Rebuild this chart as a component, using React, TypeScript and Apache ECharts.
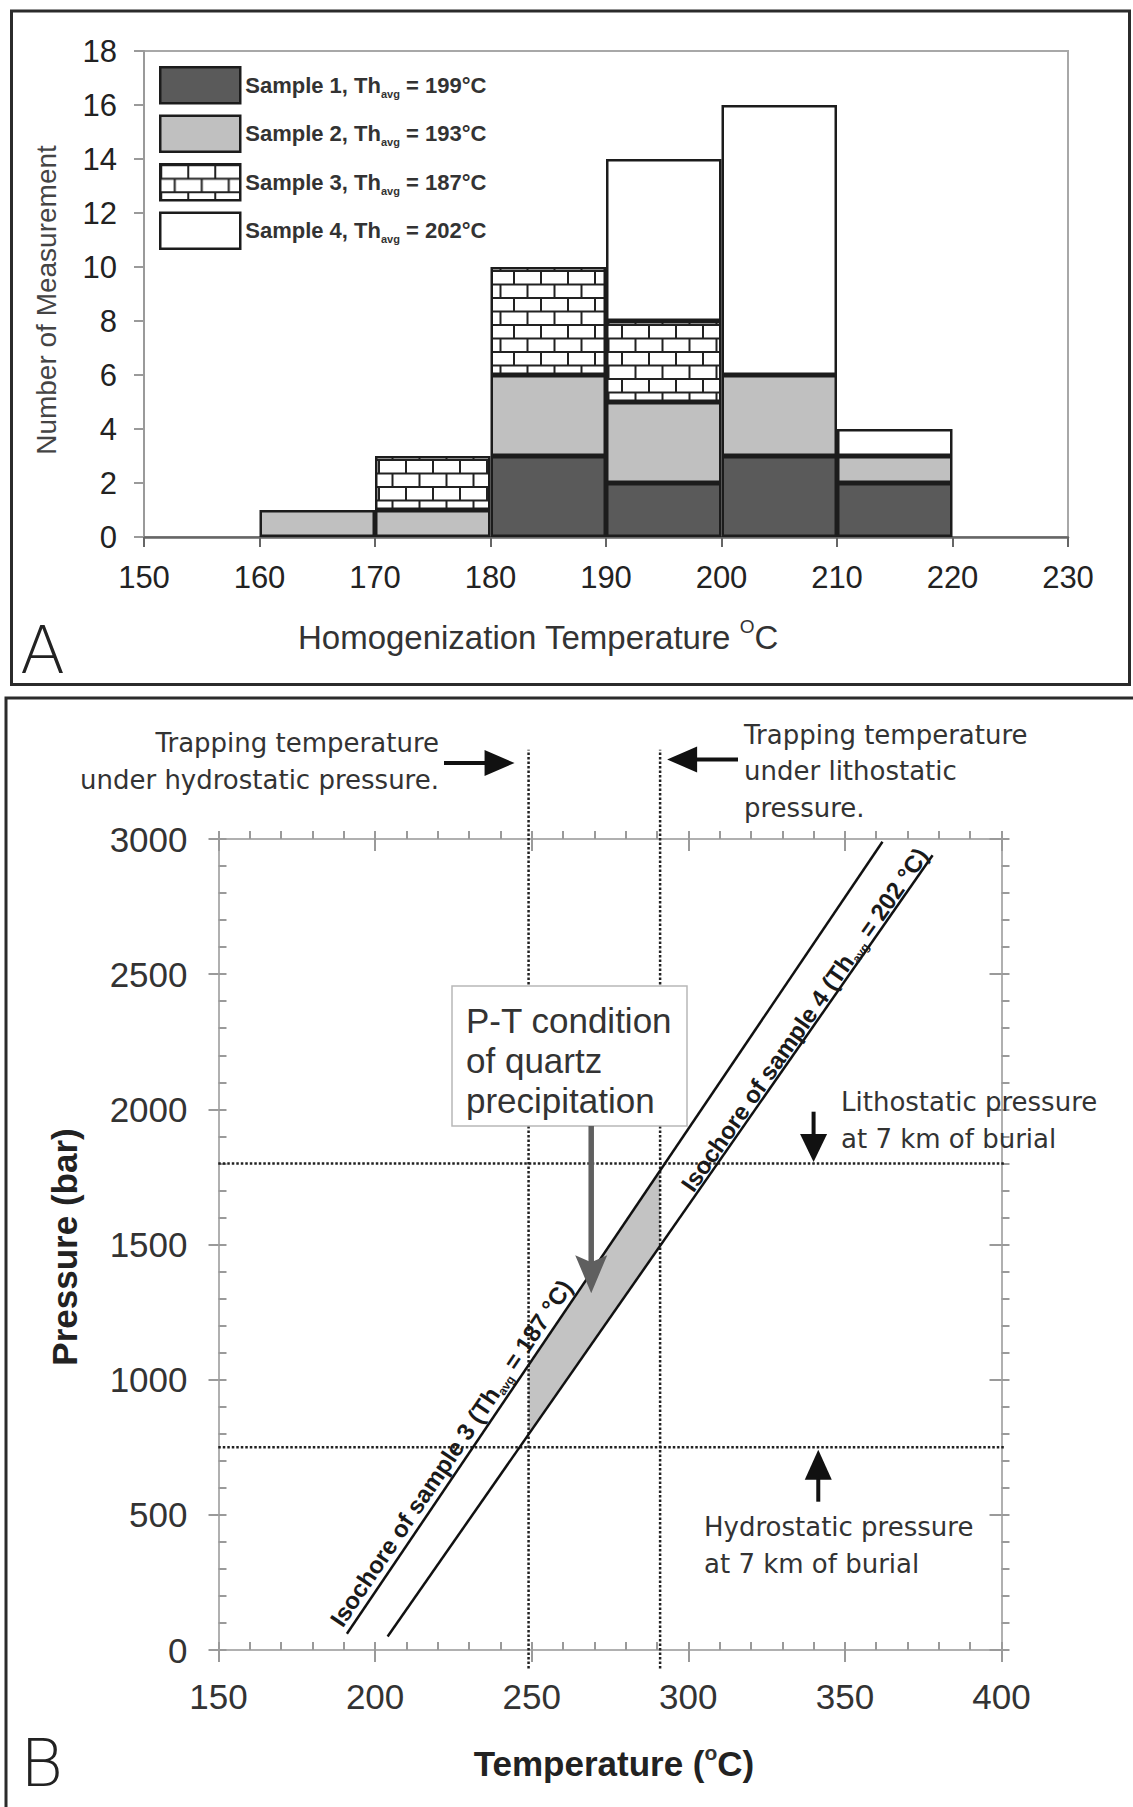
import React, { useEffect, useRef } from 'react';
import * as echarts from 'echarts';

// ---------------- Panel A: homogenization temperature histogram ----------------
const BIN_STARTS = [160, 170, 180, 190, 200, 210];
const BIN_WIDTH = 10;
const SAMPLE_1 = [0, 0, 3, 2, 3, 2];
const SAMPLE_2 = [1, 1, 3, 3, 3, 1];
const SAMPLE_3 = [0, 2, 4, 3, 0, 0];
const SAMPLE_4 = [0, 0, 0, 6, 10, 1];
const SAMPLE_NAMES = ['Sample 1', 'Sample 2', 'Sample 3', 'Sample 4'];
const SAMPLE_TH_AVG = [199, 193, 187, 202];
const HIST_T_MIN = 150;
const HIST_T_MAX = 230;
const HIST_T_STEP = 10;
const HIST_N_MIN = 0;
const HIST_N_MAX = 18;
const HIST_N_STEP = 2;

// ---------------- Panel B: pressure-temperature diagram ----------------
const PT_T_MIN = 150;
const PT_T_MAX = 400;
const PT_T_STEP = 50;
const PT_T_MINOR = 10;
const PT_P_MIN = 0;
const PT_P_MAX = 3000;
const PT_P_STEP = 500;
const PT_P_MINOR = 100;
const ISOCHORE_3_T = [191, 362];
const ISOCHORE_3_P = [60, 2990];
const ISOCHORE_4_T = [204, 378];
const ISOCHORE_4_P = [50, 2940];
const TRAP_T_HYDROSTATIC = 249;
const TRAP_T_LITHOSTATIC = 291;
const P_HYDROSTATIC = 750;
const P_LITHOSTATIC = 1800;
const PT_FIELD_T = [249, 291, 291, 249];
const PT_FIELD_P = [1054, 1774, 1495, 797];
const PT_ARROW_T = 269;
const PT_ARROW_P = 1320;

// guide lines run a little past the frame
const GUIDE_P_EXTENT = [-68, 3330];
const GUIDE_T_EXTENT = [137, 414];

const FONT = "'Liberation Sans', Arial, Helvetica, sans-serif";
const NOTE_FONT = "'DejaVu Sans', sans-serif";

const A_GRID = { left: 144, top: 51, width: 924, height: 486 };
const B_GRID = { left: 218.5, top: 839, width: 783, height: 811 };

// axis indices
const A_BIN_X = 1;
const B_X = 2;
const B_Y = 1;

function brickPattern() {
  const w = 54;
  const h = 27;
  const svg =
    `<svg xmlns='http://www.w3.org/2000/svg' width='${w}' height='${h}'>` +
    `<rect width='${w}' height='${h}' fill='#ffffff'/>` +
    `<path d='M0 1H${w}M0 14.5H${w}M1 0V14.5M28 0V14.5M14.5 14.5V${h}M41.5 14.5V${h}' stroke='#222' stroke-width='2' fill='none'/>` +
    `</svg>`;
  return {
    image: 'data:image/svg+xml;charset=utf-8,' + encodeURIComponent(svg),
    repeat: 'repeat',
    imageWidth: w,
    imageHeight: h,
  };
}

const plainAxis = {
  splitLine: { show: false },
  axisLabel: { show: false },
};

function buildOption(): any {
  // one category per 10 °C bin across the whole axis range
  const binLabels: string[] = [];
  for (let t = HIST_T_MIN; t < HIST_T_MAX; t += BIN_WIDTH) binLabels.push(String(t));

  const samples = [SAMPLE_1, SAMPLE_2, SAMPLE_3, SAMPLE_4];
  const fills: any[] = ['#5a5a5a', '#c0c0c0', brickPattern(), '#ffffff'];

  const barSeries = samples.map((vals, i) => ({
    name: SAMPLE_NAMES[i],
    type: 'bar',
    stack: 'count',
    xAxisIndex: A_BIN_X,
    yAxisIndex: 0,
    barWidth: '100%',
    z: 3 + i,
    itemStyle: { color: fills[i], borderColor: '#1c1c1c', borderWidth: 2.5 },
    data: binLabels.map((lab) => {
      const j = BIN_STARTS.indexOf(Number(lab));
      const v = j < 0 ? 0 : vals[j];
      return v === 0 ? '-' : v;
    }),
  }));

  const tickLine = { color: '#9a9a9a', width: 2 };
  const frameLine = { color: '#b0b0b0', width: 2 };
  const tAxis = { gridIndex: 1, type: 'value', min: PT_T_MIN, max: PT_T_MAX };
  const pAxis = { gridIndex: 1, type: 'value', min: PT_P_MIN, max: PT_P_MAX };

  const guide = (data: number[][]) => ({
    type: 'line',
    xAxisIndex: B_X,
    yAxisIndex: B_Y,
    data,
    symbol: 'none',
    clip: false,
    silent: true,
    z: 4,
    lineStyle: { color: '#222', width: 2.5, type: [2.5, 2] },
  });

  const isochore = (t: number[], p: number[]) => ({
    type: 'line',
    xAxisIndex: B_X,
    yAxisIndex: B_Y,
    data: t.map((v, i) => [v, p[i]]),
    symbol: 'none',
    silent: true,
    z: 5,
    lineStyle: { color: '#111', width: 2.5 },
  });

  const isoLabels = [3, 4].map(
    (k) => `Isochore of sample ${k} (Th{sub|avg} = ${SAMPLE_TH_AVG[k - 1]} °C)`
  );

  return {
    animation: false,
    backgroundColor: '#ffffff',
    textStyle: { fontFamily: FONT },
    grid: [
      {
        ...A_GRID,
        show: true,
        borderColor: '#a8a8a8',
        borderWidth: 2,
        backgroundColor: 'transparent',
        outerBoundsMode: 'none',
      },
      { ...B_GRID, show: false, outerBoundsMode: 'none' },
    ],
    legend: {
      data: SAMPLE_NAMES,
      orient: 'vertical',
      left: 159,
      top: 66,
      padding: 0,
      itemWidth: 80,
      itemHeight: 36,
      itemGap: 10,
      icon: 'rect',
      selectedMode: false,
      itemStyle: { borderColor: '#1c1c1c', borderWidth: 2.5 },
      formatter: (name: string) => {
        const i = SAMPLE_NAMES.indexOf(name);
        return `${name}, Th{sub|avg} = ${SAMPLE_TH_AVG[i]}°C`;
      },
      textStyle: {
        fontFamily: FONT,
        fontWeight: 'bold',
        fontSize: 22,
        color: '#333',
        lineHeight: 28,
        rich: {
          sub: {
            fontFamily: FONT,
            fontWeight: 'bold',
            fontSize: 11,
            color: '#333',
            verticalAlign: 'bottom',
            lineHeight: 14,
          },
        },
      },
    },
    xAxis: [
      {
        gridIndex: 0,
        type: 'value',
        min: HIST_T_MIN,
        max: HIST_T_MAX,
        interval: HIST_T_STEP,
        splitLine: { show: false },
        axisLine: { show: true, onZero: false, lineStyle: { color: '#666', width: 2.5 } },
        axisTick: { show: true, inside: false, length: 10, lineStyle: { color: '#666', width: 2 } },
        axisLabel: { fontSize: 31, color: '#222', fontFamily: FONT, margin: 25 },
      },
      {
        gridIndex: 0,
        type: 'category',
        data: binLabels,
        boundaryGap: true,
        position: 'bottom',
        show: false,
      },
      {
        ...tAxis,
        position: 'bottom',
        interval: PT_T_STEP,
        splitLine: { show: false },
        axisLine: { show: true, onZero: false, lineStyle: frameLine },
        axisTick: { show: true, inside: false, length: 12, lineStyle: tickLine },
        axisLabel: {
          fontSize: 35,
          color: '#333',
          fontFamily: FONT,
          margin: 29,
          formatter: (v: number) => String(v),
        },
      },
      {
        ...tAxis,
        ...plainAxis,
        position: 'bottom',
        interval: PT_T_MINOR,
        axisLine: { show: false, onZero: false },
        axisTick: { show: true, inside: true, length: 8, lineStyle: tickLine },
      },
      {
        ...tAxis,
        ...plainAxis,
        position: 'top',
        interval: PT_T_STEP,
        axisLine: { show: true, onZero: false, lineStyle: frameLine },
        axisTick: { show: true, inside: true, length: 12, lineStyle: tickLine },
      },
      {
        ...tAxis,
        ...plainAxis,
        position: 'top',
        interval: PT_T_MINOR,
        axisLine: { show: false, onZero: false },
        axisTick: { show: true, inside: false, length: 8, lineStyle: tickLine },
      },
    ],
    yAxis: [
      {
        gridIndex: 0,
        type: 'value',
        min: HIST_N_MIN,
        max: HIST_N_MAX,
        interval: HIST_N_STEP,
        splitLine: { show: false },
        axisLine: { show: true, onZero: false, lineStyle: { color: '#9a9a9a', width: 2 } },
        axisTick: { show: true, inside: false, length: 10, lineStyle: { color: '#9a9a9a', width: 2 } },
        axisLabel: { fontSize: 31, color: '#222', fontFamily: FONT, margin: 27 },
      },
      {
        ...pAxis,
        position: 'left',
        interval: PT_P_STEP,
        splitLine: { show: false },
        axisLine: { show: true, onZero: false, lineStyle: frameLine },
        axisTick: { show: true, inside: false, length: 10, lineStyle: tickLine },
        axisLabel: {
          fontSize: 35,
          color: '#333',
          fontFamily: FONT,
          margin: 31,
          formatter: (v: number) => String(v),
        },
      },
      {
        ...pAxis,
        ...plainAxis,
        position: 'left',
        interval: PT_P_MINOR,
        axisLine: { show: false, onZero: false },
        axisTick: { show: true, inside: true, length: 8, lineStyle: tickLine },
      },
      {
        ...pAxis,
        ...plainAxis,
        position: 'right',
        interval: PT_P_STEP,
        axisLine: { show: true, onZero: false, lineStyle: frameLine },
        axisTick: { show: true, inside: true, length: 12, lineStyle: tickLine },
      },
      {
        ...pAxis,
        ...plainAxis,
        position: 'right',
        interval: PT_P_MINOR,
        axisLine: { show: false, onZero: false },
        axisTick: { show: true, inside: false, length: 8, lineStyle: tickLine },
      },
    ],
    series: [
      ...barSeries,
      {
        type: 'custom',
        name: 'P-T field',
        xAxisIndex: B_X,
        yAxisIndex: B_Y,
        silent: true,
        z: 2,
        data: [[PT_FIELD_T[0], PT_FIELD_P[0]]],
        renderItem: (_params: any, api: any) => ({
          type: 'polygon',
          shape: { points: PT_FIELD_T.map((t, i) => api.coord([t, PT_FIELD_P[i]])) },
          style: { fill: '#c3c3c3' },
        }),
      },
      guide([[TRAP_T_HYDROSTATIC, GUIDE_P_EXTENT[0]], [TRAP_T_HYDROSTATIC, GUIDE_P_EXTENT[1]]]),
      guide([[TRAP_T_LITHOSTATIC, GUIDE_P_EXTENT[0]], [TRAP_T_LITHOSTATIC, GUIDE_P_EXTENT[1]]]),
      guide([[GUIDE_T_EXTENT[0], P_LITHOSTATIC], [GUIDE_T_EXTENT[1], P_LITHOSTATIC]]),
      guide([[GUIDE_T_EXTENT[0], P_HYDROSTATIC], [GUIDE_T_EXTENT[1], P_HYDROSTATIC]]),
      isochore(ISOCHORE_3_T, ISOCHORE_3_P),
      isochore(ISOCHORE_4_T, ISOCHORE_4_P),
      {
        type: 'custom',
        name: 'isochore labels',
        xAxisIndex: B_X,
        yAxisIndex: B_Y,
        silent: true,
        z: 6,
        dimensions: ['t0', 'p0', 't1', 'p1'],
        encode: { x: [0, 2], y: [1, 3] },
        data: [
          [ISOCHORE_3_T[0], ISOCHORE_3_P[0], ISOCHORE_3_T[1], ISOCHORE_3_P[1]],
          [ISOCHORE_4_T[0], ISOCHORE_4_P[0], ISOCHORE_4_T[1], ISOCHORE_4_P[1]],
        ],
        renderItem: (params: any, api: any) => {
          const i = params.dataIndex;
          const a = api.coord([api.value(0), api.value(1)]);
          const b = api.coord([api.value(2), api.value(3)]);
          const ang = Math.atan2(a[1] - b[1], b[0] - a[0]);
          const ux = Math.cos(ang);
          const uy = -Math.sin(ang);
          const nx = -Math.sin(ang);
          const ny = -Math.cos(ang);
          const atStart = i === 0;
          const base = atStart ? a : b;
          const along = atStart ? 2 : -2;
          const lift = atStart ? 1 : -3;
          const align = atStart ? 'left' : 'right';
          return {
            type: 'text',
            x: base[0] + ux * along + nx * lift,
            y: base[1] + uy * along + ny * lift,
            rotation: ang,
            style: {
              text: isoLabels[i],
              align,
              textAlign: align,
              verticalAlign: 'bottom',
              textVerticalAlign: 'bottom',
              fontFamily: FONT,
              fontWeight: 'bold',
              fontSize: 24,
              lineHeight: 28,
              fill: '#1a1a1a',
              rich: {
                sub: {
                  fontFamily: FONT,
                  fontWeight: 'bold',
                  fontSize: 12,
                  lineHeight: 12,
                  fill: '#1a1a1a',
                  verticalAlign: 'bottom',
                },
              },
            },
          };
        },
      },
    ],
  };
}

function textEl(x: number, y: number, text: string, opts: any = {}) {
  const align = opts.align || 'left';
  const vAlign = opts.verticalAlign || 'top';
  return {
    type: 'text',
    x,
    y,
    z: 120,
    rotation: opts.rotation || 0,
    style: {
      text,
      align,
      textAlign: align,
      verticalAlign: vAlign,
      textVerticalAlign: vAlign,
      fontFamily: opts.fontFamily || FONT,
      fontWeight: opts.fontWeight || 'normal',
      fontSize: opts.fontSize || 26,
      lineHeight: opts.lineHeight || opts.fontSize || 26,
      fill: opts.fill || '#333',
      rich: opts.rich,
    },
  };
}

function arrowEls(
  x1: number,
  y1: number,
  x2: number,
  y2: number,
  color: string,
  shaftW: number,
  headLen: number,
  headW: number,
  notch = 0
) {
  const len = Math.hypot(x2 - x1, y2 - y1);
  const ux = (x2 - x1) / len;
  const uy = (y2 - y1) / len;
  const nx = -uy;
  const ny = ux;
  const bx = x2 - ux * headLen;
  const by = y2 - uy * headLen;
  return [
    {
      type: 'line',
      z: 120,
      shape: { x1, y1, x2: bx + ux * (notch + 2), y2: by + uy * (notch + 2) },
      style: { stroke: color, lineWidth: shaftW },
    },
    {
      type: 'polygon',
      z: 121,
      shape: {
        points: [
          [x2, y2],
          [bx + (nx * headW) / 2, by + (ny * headW) / 2],
          [bx + ux * notch, by + uy * notch],
          [bx - (nx * headW) / 2, by - (ny * headW) / 2],
        ],
      },
      style: { fill: color },
    },
  ];
}

function buildGraphics(px: (t: number, p: number) => number[]) {
  const els: any[] = [];
  const supStyle = (size: number, weight: string) => ({
    sup: { fontFamily: FONT, fontWeight: weight, fontSize: size, lineHeight: size, fill: '#333', verticalAlign: 'top' },
  });

  // panel frames
  els.push({
    type: 'rect',
    z: 110,
    shape: { x: 11.5, y: 11, width: 1118, height: 673.5 },
    style: { fill: 'none', stroke: '#2b2b2b', lineWidth: 3 },
  });
  els.push({
    type: 'rect',
    z: 110,
    shape: { x: 6, y: 698, width: 1150, height: 1140 },
    style: { fill: 'none', stroke: '#2b2b2b', lineWidth: 3 },
  });

  // panel letters
  const letter = { fontSize: 66, lineHeight: 54, fontFamily: NOTE_FONT, fontWeight: 200, verticalAlign: 'middle', fill: '#222' };
  els.push(textEl(20, 650, 'A', letter));
  els.push(textEl(20, 1763, 'B', letter));

  // panel A titles
  els.push(
    textEl(538, 637, 'Homogenization Temperature {sup|O}C', {
      align: 'center',
      verticalAlign: 'middle',
      fontSize: 33,
      lineHeight: 40,
      fill: '#333',
      rich: supStyle(19, 'normal'),
    })
  );
  els.push(
    textEl(46, 300, 'Number of Measurement', {
      align: 'center',
      verticalAlign: 'middle',
      fontSize: 28,
      fill: '#444',
      rotation: Math.PI / 2,
    })
  );

  // panel B titles
  els.push(
    textEl(614, 1763, 'Temperature ({sup|o}C)', {
      align: 'center',
      verticalAlign: 'middle',
      fontSize: 35,
      lineHeight: 42,
      fontWeight: 'bold',
      fill: '#222',
      rich: supStyle(21, 'bold'),
    })
  );
  els.push(
    textEl(64, 1247, 'Pressure (bar)', {
      align: 'center',
      verticalAlign: 'middle',
      fontSize: 35,
      fontWeight: 'bold',
      fill: '#222',
      rotation: Math.PI / 2,
    })
  );

  // notes
  const note = { fontFamily: NOTE_FONT, fontSize: 26, lineHeight: 37, fill: '#333' };
  els.push(textEl(439, 724.5, 'Trapping temperature\nunder hydrostatic pressure.', { ...note, align: 'right' }));
  els.push(textEl(744, 716.5, 'Trapping temperature\nunder lithostatic\npressure.', { ...note, lineHeight: 36.5 }));
  els.push(textEl(841, 1083, 'Lithostatic pressure\nat 7 km of burial', note));
  els.push(textEl(704, 1508, 'Hydrostatic pressure\nat 7 km of burial', note));

  // P-T condition box
  els.push({
    type: 'rect',
    z: 115,
    shape: { x: 452, y: 986, width: 235, height: 140 },
    style: { fill: '#ffffff', stroke: '#b8b8b8', lineWidth: 1.5 },
  });
  els.push(
    textEl(466, 1000, 'P-T condition\nof quartz\nprecipitation', { fontSize: 35, lineHeight: 40, fill: '#333' })
  );

  // arrows
  const xHydroTrap = px(TRAP_T_HYDROSTATIC, 0)[0];
  const xLithoTrap = px(TRAP_T_LITHOSTATIC, 0)[0];
  const yLitho = px(PT_T_MIN, P_LITHOSTATIC)[1];
  const yHydro = px(PT_T_MIN, P_HYDROSTATIC)[1];
  const xLithoArrow = px(340, 0)[0];
  const xHydroArrow = px(341.5, 0)[0];
  const tip = px(PT_ARROW_T, PT_ARROW_P);

  els.push(...arrowEls(444, 763, xHydroTrap - 14, 763, '#111', 4, 30, 26));
  els.push(...arrowEls(738, 759.5, xLithoTrap + 7, 759.5, '#111', 4, 30, 26));
  els.push(...arrowEls(xLithoArrow, 1111.7, xLithoArrow, yLitho - 1.5, '#111', 4, 28, 27));
  els.push(...arrowEls(xHydroArrow, 1501.7, xHydroArrow, yHydro + 2.5, '#111', 4, 30, 27));
  els.push(...arrowEls(tip[0], 1126, tip[0], tip[1], '#5f5f5f', 5.5, 38, 32, 7));

  return els;
}

export default function App() {
  const ref = useRef<HTMLDivElement>(null);
  useEffect(() => {
    document.body.style.margin = '0';
    const chart = echarts.init(ref.current as HTMLDivElement, null, { renderer: 'svg' });
    chart.setOption(buildOption());
    const px = (t: number, p: number) =>
      chart.convertToPixel({ xAxisIndex: B_X, yAxisIndex: B_Y } as any, [t, p]) as unknown as number[];
    chart.setOption({ graphic: { elements: buildGraphics(px) } });
    return () => chart.dispose();
  }, []);
  return <div ref={ref} style={{ width: 1133, height: 1807, background: '#ffffff' }} />;
}
